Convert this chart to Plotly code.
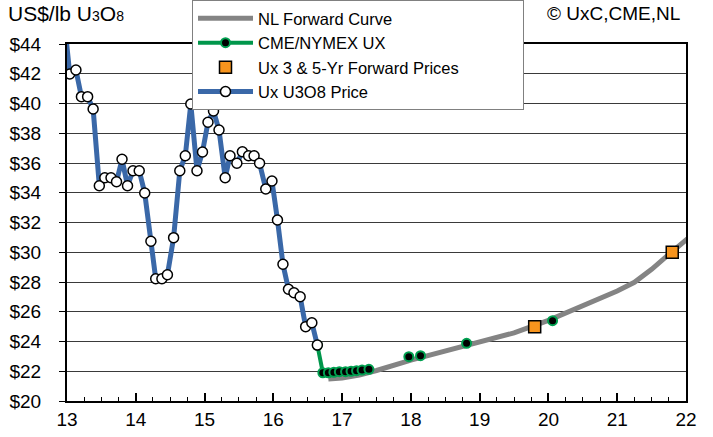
import plotly.graph_objects as go

# ---- data ----
ux_x = [12.96, 13.04, 13.13, 13.21, 13.30, 13.38, 13.47, 13.55, 13.64, 13.72, 13.80, 13.88, 13.96,
        14.05, 14.13, 14.22, 14.29, 14.38, 14.46, 14.55, 14.64, 14.72, 14.80, 14.89, 14.97,
        15.05, 15.13, 15.21, 15.30, 15.37, 15.47, 15.55, 15.64, 15.72, 15.80, 15.89, 15.98,
        16.06, 16.14, 16.22, 16.30, 16.39, 16.47, 16.56, 16.64]
ux_y = [45.6, 41.98, 42.25, 40.46, 40.46, 39.63, 34.47, 35.01, 35.01, 34.74, 36.25, 34.47, 35.48,
        35.48, 33.98, 30.74, 28.22, 28.22, 28.49, 30.98, 35.48, 36.49, 39.97, 35.48, 36.74,
        38.74, 39.50, 38.22, 35.01, 36.49, 35.98, 36.76, 36.49, 36.49, 35.98, 34.25, 34.79,
        32.17, 29.19, 27.51, 27.28, 27.01, 25.00, 25.26, 23.76]

cme_x = [16.64, 16.72, 16.80, 16.88, 16.96, 17.05, 17.13, 17.21, 17.29, 17.39,
         None, 17.97, None, 18.14, None, 18.81, None, 20.06]
cme_y = [23.76, 21.90, 21.90, 21.93, 21.97, 21.97, 22.00, 22.04, 22.08, 22.13,
         None, 22.98, None, 23.05, None, 23.88, None, 25.40]

nl_x = [16.80, 17.00, 17.25, 17.50, 18.00, 18.50, 19.00, 19.50, 20.00, 20.50,
        21.00, 21.25, 21.50, 21.75, 22.00, 22.20]
nl_y = [21.48, 21.55, 21.75, 22.05, 22.75, 23.38, 23.97, 24.58, 25.42, 26.40,
        27.40, 27.98, 28.85, 29.85, 30.82, 31.60]

fwd_x = [19.80, 21.80]
fwd_y = [25.0, 30.0]

y_ticks = list(range(20, 45, 2))
y_labels = ["$%d" % v for v in y_ticks]
x_ticks = list(range(13, 23))
x_labels = [str(v) for v in x_ticks]

FONT = "Liberation Sans, Arial, sans-serif"
PW, PH = 619, 357  # plot area size in px

fig = go.Figure()
fig.add_trace(go.Scatter(x=nl_x, y=nl_y, mode="lines", name="NL Forward Curve",
                         line=dict(color="#848484", width=5)))
fig.add_trace(go.Scatter(x=cme_x, y=cme_y, mode="lines+markers", name="CME/NYMEX UX",
                         connectgaps=False,
                         line=dict(color="#00964B", width=4),
                         marker=dict(color="black", size=9, line=dict(color="#00A050", width=2))))
fig.add_trace(go.Scatter(x=fwd_x, y=fwd_y, mode="markers", name="Ux 3 & 5-Yr Forward Prices",
                         marker=dict(symbol="square", color="#F7941D", size=12,
                                     line=dict(color="black", width=1.5))))
fig.add_trace(go.Scatter(x=ux_x, y=ux_y, mode="lines+markers", name="Ux U3O8 Price",
                         line=dict(color="#3A68A8", width=5),
                         marker=dict(color="white", size=10, line=dict(color="black", width=1.5))))

fig.update_layout(
    width=713, height=437,
    margin=dict(l=67, r=27, t=44, b=36, autoexpand=False),
    paper_bgcolor="white", plot_bgcolor="white",
    font=dict(family=FONT, size=19, color="black"),
    showlegend=True,
    legend=dict(x=(192 - 67) / PW, y=1 + 44 / PH, xanchor="left", yanchor="top",
                orientation="h", entrywidth=260, entrywidthmode="pixels",
                bgcolor="white", bordercolor="#808080", borderwidth=1,
                font=dict(family=FONT, size=16.5, color="black"),
                itemwidth=55, tracegroupgap=0),
    xaxis=dict(range=[13, 22], tickmode="array", tickvals=x_ticks, ticktext=x_labels,
               showgrid=False, zeroline=False,
               showline=True, linecolor="black", linewidth=2, mirror=True,
               ticks="inside", ticklen=8, tickwidth=1.5, tickcolor="black",
               minor=dict(ticks="inside", ticklen=4, dtick=0.25, tickcolor="black", tickwidth=1),
               tickfont=dict(family=FONT, size=19)),
    yaxis=dict(range=[20, 44], tickmode="array", tickvals=y_ticks, ticktext=y_labels,
               showgrid=True, gridcolor="#3a3a3a", gridwidth=1, zeroline=False,
               showline=True, linecolor="black", linewidth=2, mirror=True,
               ticks="outside", ticklen=6, tickcolor="black",
               ticklabelstandoff=14,
               tickfont=dict(family=FONT, size=19)),
    annotations=[
        dict(text='US$/lb U<span style="font-size:14px">3</span>O<span style="font-size:14px">8</span>',
             xref="paper", yref="paper", x=(6 - 67) / PW, y=1 + 31 / PH, xanchor="left", yanchor="middle",
             showarrow=False, font=dict(family=FONT, size=21, color="black")),
        dict(text="© UxC,CME,NL", xref="paper", yref="paper", x=(682 - 67) / PW, y=1 + 31 / PH,
             xanchor="right", yanchor="middle", showarrow=False,
             font=dict(family=FONT, size=19, color="black")),
    ],
)

fig.write_html("out.html", config={"displayModeBar": False},
               post_script="document.body.style.margin='0';")
